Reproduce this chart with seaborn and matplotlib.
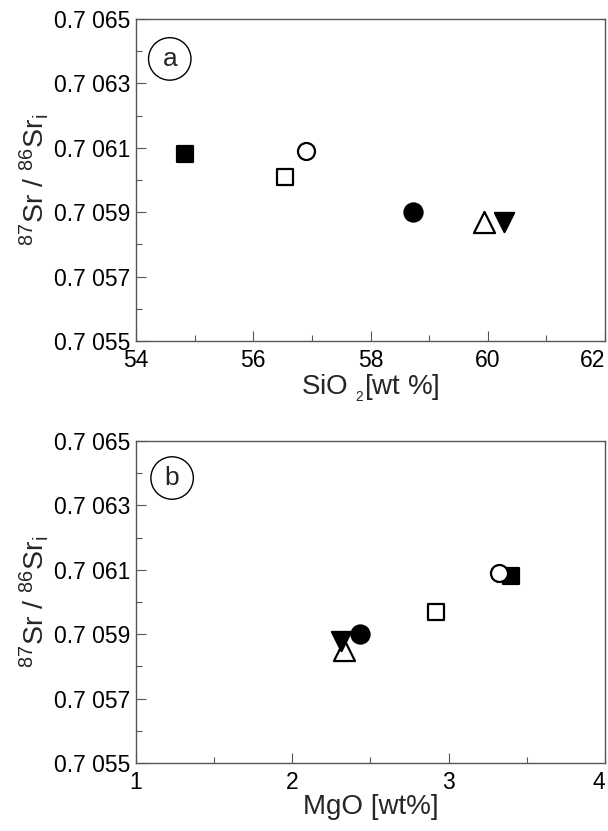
import matplotlib
matplotlib.use("Agg")
import matplotlib.pyplot as plt
import seaborn as sns
import pandas as pd
from matplotlib.ticker import FixedLocator, FuncFormatter

sns.set_theme(style="white")
plt.rcParams['font.family'] = ['Liberation Sans', 'DejaVu Sans']
plt.rcParams['mathtext.default'] = 'regular'

samples = ["S1", "S2", "S3", "S4", "S5", "S6"]
sio2 = [54.83, 56.55, 56.90, 58.72, 59.94, 60.28]
mgo = [3.40, 2.92, 3.32, 2.43, 2.33, 2.31]
sr_a = [0.70608, 0.70601, 0.70609, 0.70590, 0.70587, 0.70587]
sr_b = [0.70608, 0.70597, 0.70609, 0.70590, 0.70585, 0.70588]

markers = {"S1": "s", "S2": "s", "S3": "o", "S4": "o", "S5": "^", "S6": "v"}
faces = {"S1": "black", "S2": "white", "S3": "white", "S4": "black", "S5": "white", "S6": "black"}
sizes = {"S1": 120, "S2": 130, "S3": 150, "S4": 170, "S5": 230, "S6": 190}

df_a = pd.DataFrame({"sample": samples, "x": sio2, "y": sr_a})
df_b = pd.DataFrame({"sample": samples, "x": mgo, "y": sr_b})

yticks = [0.7055, 0.7057, 0.7059, 0.7061, 0.7063, 0.7065]
yminor = [0.7056, 0.7058, 0.7060, 0.7062, 0.7064]

fig = plt.figure(figsize=(6.08, 8.31), dpi=100)
ax_a = fig.add_axes([136/608, 490/831, 469/608, 322/831])
ax_b = fig.add_axes([136/608, 68/831, 469/608, 322/831])


def yfmt(v, pos):
    s = f"{v:.4f}"
    return s[:3] + " " + s[3:]


def style_axes(ax, xmajor, xminor, xlim, letter, lpos, xlabel):
    ax.set_xlim(*xlim)
    ax.set_ylim(0.7055, 0.7065)
    ax.xaxis.set_major_locator(FixedLocator(xmajor))
    ax.xaxis.set_minor_locator(FixedLocator(xminor))
    ax.yaxis.set_major_locator(FixedLocator(yticks))
    ax.yaxis.set_minor_locator(FixedLocator(yminor))
    ax.yaxis.set_major_formatter(FuncFormatter(yfmt))
    ax.xaxis.set_major_formatter(FuncFormatter(lambda v, p: f"{v:g}"))
    ax.tick_params(axis="both", which="major", direction="in", length=7, width=0.8,
                   colors="#555555", labelcolor="black", labelsize=16.5,
                   bottom=True, left=True, top=False, right=False, pad=4)
    ax.tick_params(axis="x", which="major", pad=6)
    ax.tick_params(axis="both", which="minor", direction="in", length=4, width=0.8,
                   colors="#555555", bottom=True, left=True, top=False, right=False)
    for sp in ax.spines.values():
        sp.set_color("#555555")
        sp.set_linewidth(1.0)
        sp.set_visible(True)
    ax.set_xlabel(xlabel, fontsize=20, labelpad=0)
    ax.set_ylabel("$^{87}$Sr / $^{86}$Sr$_{i}$", fontsize=20.5, labelpad=2)
    ax.text(lpos[0], lpos[1], letter, transform=ax.transAxes, fontsize=19,
            ha="center", va="center",
            bbox=dict(boxstyle="circle,pad=0.35", fc="white", ec="black", lw=1.0))
    ax.grid(False)
    ax.set_facecolor("white")
    fig.canvas.draw()
    labels = ax.get_xticklabels()
    labels[-1].set_horizontalalignment("right")


for ax, df in [(ax_a, df_a), (ax_b, df_b)]:
    for s in samples:
        sub = df[df["sample"] == s]
        sns.scatterplot(data=sub, x="x", y="y", ax=ax, marker=markers[s],
                        color=faces[s], edgecolor="black", linewidth=1.6,
                        s=sizes[s], legend=False, zorder=3)

style_axes(ax_a, [54, 56, 58, 60, 62], [55, 57, 59, 61], (54, 62), "a", (0.072, 0.876),
           r"SiO$\;_{_{2}}$[wt %]")
style_axes(ax_b, [1, 2, 3, 4], [1.5, 2.5, 3.5], (1, 4), "b", (0.077, 0.885),
           "MgO [wt%]")

fig.savefig("out.png", dpi=100, facecolor="white")
